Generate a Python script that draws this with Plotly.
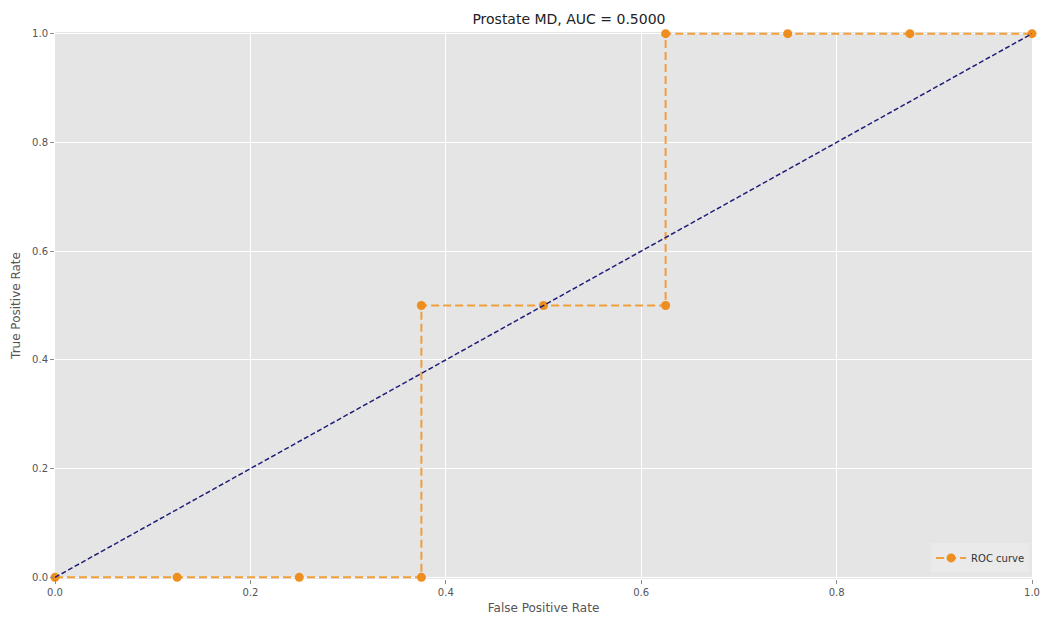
import plotly.graph_objects as go

# ROC curve points (false positive rate, true positive rate)
fpr = [0.0, 0.125, 0.25, 0.375, 0.375, 0.5, 0.625, 0.625, 0.75, 0.875, 1.0]
tpr = [0.0, 0.0, 0.0, 0.0, 0.5, 0.5, 0.5, 1.0, 1.0, 1.0, 1.0]
# chance line
chance_x = [0.0, 1.0]
chance_y = [0.0, 1.0]
ticks = [0.0, 0.2, 0.4, 0.6, 0.8, 1.0]
tick_text = ["0.0", "0.2", "0.4", "0.6", "0.8", "1.0"]
auc = 0.5

fig = go.Figure()
fig.add_trace(go.Scatter(
    x=fpr, y=tpr, mode="lines+markers", name="ROC curve",
    line=dict(color="rgba(243,150,40,0.9)", width=2, dash="8px,4px"),
    marker=dict(color="#EE8E1E", size=9),
    cliponaxis=False,
))
fig.add_trace(go.Scatter(
    x=chance_x, y=chance_y, mode="lines", showlegend=False,
    line=dict(color="#1F1F7A", width=1.5, dash="5px,2.5px"),
    cliponaxis=False,
))

axis_common = dict(
    tickvals=ticks, ticktext=tick_text,
    showgrid=True, gridcolor="white", gridwidth=1,
    zeroline=False, showline=False,
    ticks="outside", ticklen=4, tickcolor="#8a8a8a",
    tickfont=dict(family="DejaVu Sans", size=10, color="#555555"),
    automargin=False,
)

fig.update_layout(
    width=1047, height=620,
    margin=dict(l=55, r=15, t=32, b=41),
    paper_bgcolor="white", plot_bgcolor="#E5E5E5",
    title=dict(text=f"Prostate MD, AUC = {auc:.4f}", x=0.5434, xanchor="center",
               y=0.970, yanchor="middle",
               font=dict(family="DejaVu Sans", size=14, color="#222222")),
    xaxis=dict(axis_common, range=[0, 1],
               title=dict(text="False Positive Rate", standoff=6,
                          font=dict(family="DejaVu Sans", size=12, color="#555555"))),
    yaxis=dict(axis_common, range=[-0.003, 1.003],
               title=dict(text="True Positive Rate", standoff=8,
                          font=dict(family="DejaVu Sans", size=12, color="#555555"))),
    legend=dict(x=0.997, y=0.012, xanchor="right", yanchor="bottom",
                bgcolor="rgba(235,235,235,0.8)", borderwidth=0,
                font=dict(family="DejaVu Sans", size=10, color="#333333")),
    showlegend=True,
)

fig.write_html("out.html")
